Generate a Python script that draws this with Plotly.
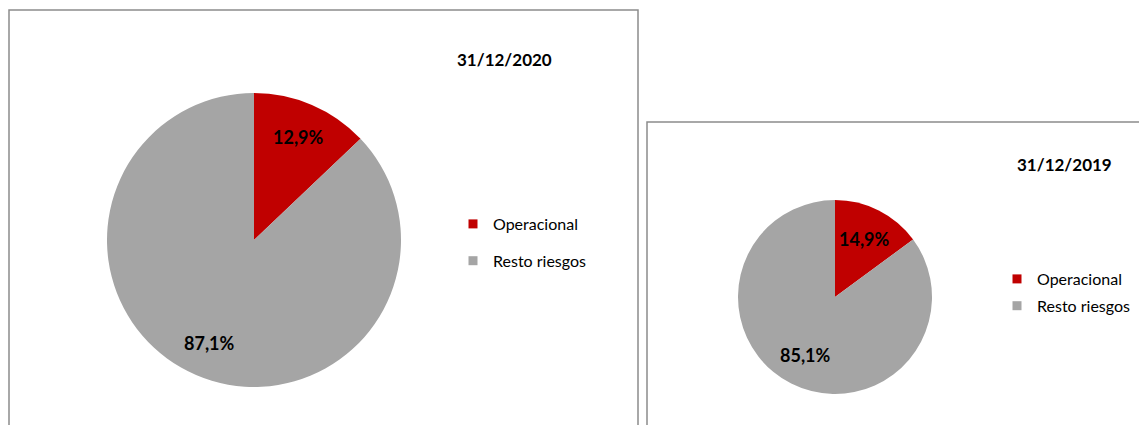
import math

import plotly.graph_objects as go

labels = ["Operacional", "Resto riesgos"]
values_2020 = [12.9, 87.1]
values_2019 = [14.9, 85.1]
titles = ["31/12/2020", "31/12/2019"]
colors = ["#C00000", "#A5A5A5"]

# the page body has an 8px margin, so the figure sits at (8, 8)
OFF = 8
W, H = 1147 - OFF, 425 - OFF
FONT = "Lato, Open Sans, sans-serif"


def fx(sx):
    return (sx - OFF) / W


def fy(sy):
    return 1 - (sy - OFF) / H


charts = [
    # pie centre / radius, title and legend positions in screen px
    dict(values=values_2020, title=titles[0], cx=254, cy=240, r=147,
         title_xy=(504, 59), legend_xy=(453, 207), lab_r=0.76, gap=13, legend="legend"),
    dict(values=values_2019, title=titles[1], cx=835, cy=297, r=97,
         title_xy=(1064, 164), legend_xy=(997, 262), lab_r=0.67, gap=3, legend="legend2"),
]

fig = go.Figure()
for ch in charts:
    fig.add_trace(go.Pie(
        labels=labels, values=ch["values"], sort=False, direction="clockwise",
        marker=dict(colors=colors), textinfo="none", showlegend=False,
        domain=dict(x=[fx(ch["cx"] - ch["r"]), fx(ch["cx"] + ch["r"])],
                    y=[fy(ch["cy"] + ch["r"]), fy(ch["cy"] - ch["r"])]),
        hoverinfo="label+percent",
    ))

    # percentage labels at the middle angle of each slice
    total = sum(ch["values"])
    start = 0.0
    for v in ch["values"]:
        share = v / total
        mid = (start + share / 2) * 2 * math.pi
        start += share
        dx = math.sin(mid) * ch["r"] * ch["lab_r"]
        dy = -math.cos(mid) * ch["r"] * ch["lab_r"]
        fig.add_annotation(
            text=f"{share * 100:.1f}%".replace(".", ","),
            x=fx(ch["cx"] + dx), y=fy(ch["cy"] + dy), xref="paper", yref="paper",
            xanchor="center", yanchor="middle", showarrow=False,
            font=dict(size=18, family=FONT, color="#000000", weight="bold"),
        )

    fig.add_annotation(text=ch["title"], x=fx(ch["title_xy"][0]), y=fy(ch["title_xy"][1]),
                       xref="paper", yref="paper", xanchor="center", yanchor="middle",
                       showarrow=False,
                       font=dict(size=17, family=FONT, color="#000000", weight="bold"))

    # legend entries (separate groups so the spacing can be set)
    for lab, col in zip(labels, colors):
        fig.add_trace(go.Scatter(
            x=[None], y=[None], mode="markers", name=lab, legendgroup=ch["legend"] + lab,
            marker=dict(symbol="square", size=9, color=col), legend=ch["legend"],
            hoverinfo="skip",
        ))

# chart frames
fig.add_shape(type="rect", xref="paper", yref="paper", x0=fx(9), x1=fx(638),
              y0=-0.05, y1=fy(10), line=dict(color="#8C8C8C", width=1.5))
fig.add_shape(type="rect", xref="paper", yref="paper", x0=fx(647), x1=1.05,
              y0=-0.05, y1=fy(122), line=dict(color="#8C8C8C", width=1.5))

legend_style = dict(font=dict(size=16, family=FONT, color="#000000"), bgcolor="rgba(0,0,0,0)",
                    itemsizing="trace", xanchor="left", yanchor="top", orientation="v")
fig.update_layout(
    width=W, height=H, margin=dict(l=0, r=0, t=0, b=0),
    paper_bgcolor="white", plot_bgcolor="white",
    font=dict(family=FONT),
    xaxis=dict(visible=False), yaxis=dict(visible=False),
    legend=dict(x=fx(charts[0]["legend_xy"][0]), y=fy(charts[0]["legend_xy"][1]),
                tracegroupgap=charts[0]["gap"], **legend_style),
    legend2=dict(x=fx(charts[1]["legend_xy"][0]), y=fy(charts[1]["legend_xy"][1]),
                 tracegroupgap=charts[1]["gap"], **legend_style),
)

fig.write_html("out.html")
